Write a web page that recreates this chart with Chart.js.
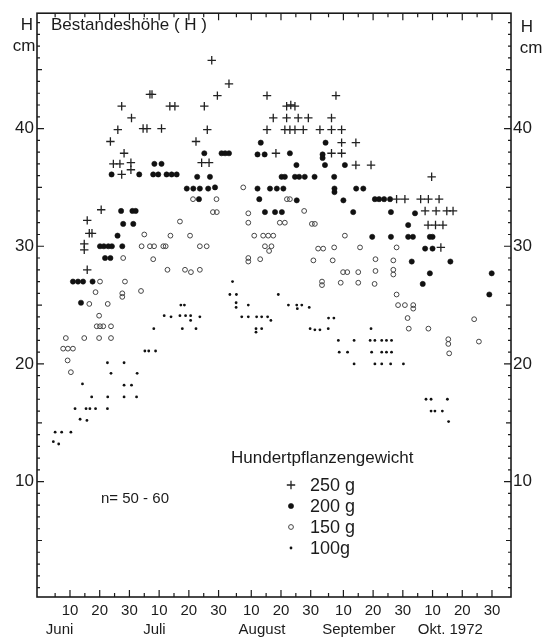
<!DOCTYPE html>
<html>
<head>
<meta charset="utf-8">
<script src="https://cdn.jsdelivr.net/npm/chart.js@4.4.0/dist/chart.umd.min.js"></script>
<style>
html, body { margin: 0; padding: 0; background: #fff; }
canvas { display: block; }
</style>
</head>
<body>
<canvas id="c" width="547" height="638"></canvas>
<script>
// x = days after 31 May 1972, y = Bestandeshöhe H in cm
var h250 = [
    [15.8, 32.2], [16.5, 31.1], [17.4, 31.1], [14.8, 30.2], [14.8, 29.7], [15.8, 28.0], [20.5, 33.1],
    [23.6, 38.9], [24.6, 37.0], [26.8, 37.0], [27.4, 36.1], [30.5, 37.1], [30.5, 36.5], [28.2, 37.9],
    [26.1, 39.9], [27.4, 41.9], [30.7, 40.9], [34.6, 40.0], [35.9, 40.0], [36.9, 42.9], [37.6, 42.9],
    [40.8, 40.0], [43.6, 41.9], [45.3, 41.9],
    [52.4, 38.9], [54.3, 37.1], [56.8, 37.1], [55.2, 41.9], [56.2, 39.9], [57.7, 45.8], [59.6, 42.8], [63.5, 43.8],
    [76.3, 42.8], [76.3, 39.9], [78.4, 40.9], [79.3, 37.9],
    [82.9, 41.9], [84.3, 42.0], [85.7, 41.9], [82.9, 40.9], [86.8, 40.9], [90.2, 40.9],
    [82.3, 39.9], [84.0, 39.9], [85.7, 39.9], [88.5, 39.9],
    [94.1, 39.9], [98.0, 39.9], [101.4, 39.9], [98.0, 40.9], [99.5, 42.8], [101.4, 38.8], [106.2, 38.8],
    [98.0, 37.9], [101.4, 37.9], [106.2, 36.9], [111.3, 36.9],
    [119.9, 34.0], [122.7, 34.0], [128.0, 34.0], [130.6, 34.0], [134.2, 34.0], [131.7, 35.9],
    [129.5, 33.0], [133.2, 33.0], [136.8, 33.0], [138.9, 33.0],
    [130.5, 31.8], [133.0, 31.8], [135.5, 31.8], [134.8, 29.9]
];
var h200 = [
    [11.0, 27.0], [12.7, 27.0], [14.4, 27.0], [17.6, 27.0], [13.7, 25.2],
    [20.1, 30.0], [21.4, 30.0], [22.9, 30.0], [24.1, 30.0], [27.6, 30.0], [21.8, 29.0], [23.6, 29.0],
    [26.0, 30.9], [27.9, 31.9], [31.3, 31.9], [27.2, 33.0], [31.0, 33.0], [32.1, 33.0],
    [24.0, 36.1], [33.3, 36.1], [38.0, 36.1], [39.7, 36.1], [42.5, 36.1], [44.2, 36.1], [45.9, 36.1],
    [38.4, 37.0], [40.8, 37.0],
    [49.3, 34.9], [51.5, 34.9], [53.7, 34.9], [56.5, 34.9], [58.8, 35.0], [52.8, 35.9], [57.1, 35.9],
    [55.2, 37.9], [61.0, 37.9], [62.2, 37.9], [63.5, 37.9], [53.4, 34.0],
    [74.2, 38.8], [73.1, 37.8], [75.5, 37.8], [84.0, 37.9],
    [81.2, 35.9], [82.3, 35.9], [85.7, 35.9], [87.1, 35.9], [89.0, 35.9], [92.3, 35.9],
    [73.1, 34.9], [77.3, 34.9], [79.6, 34.9], [81.8, 34.9], [73.7, 34.0],
    [75.6, 32.9], [79.0, 32.9], [81.3, 32.9], [86.2, 36.9], [86.3, 33.9],
    [96.0, 38.8], [95.0, 37.8], [95.0, 37.5], [95.8, 36.9], [102.5, 36.9], [98.9, 35.9],
    [99.0, 34.9], [99.0, 34.6], [106.3, 34.9], [108.7, 34.9], [102.0, 33.9],
    [112.6, 34.0], [114.0, 34.0], [115.7, 34.0], [117.7, 34.0], [105.3, 32.9], [118.0, 32.9],
    [123.8, 31.8], [111.7, 30.8], [118.0, 30.8], [123.8, 30.8], [125.4, 30.8], [131.1, 30.8], [132.0, 30.8],
    [126.1, 32.8], [129.5, 29.8], [132.0, 29.8], [125.0, 28.7], [138.0, 28.7], [131.1, 27.7], [128.7, 26.8],
    [151.9, 27.7], [151.1, 25.9]
];
var h150 = [
    [8.6, 22.2], [14.8, 22.2], [19.8, 22.2], [23.8, 22.2], [7.7, 21.3], [9.3, 21.3], [11.0, 21.3], [9.2, 20.3], [10.3, 19.3],
    [19.0, 23.2], [20.1, 23.2], [21.2, 23.2], [23.8, 23.2], [19.8, 24.1], [16.5, 25.1], [22.7, 25.1],
    [18.6, 26.1], [27.6, 26.0], [27.6, 25.7], [33.9, 26.2], [20.1, 27.0], [28.5, 27.0], [27.9, 29.0], [38.0, 28.9], [42.8, 28.0],
    [35.0, 31.0], [34.1, 30.0], [36.9, 30.0], [38.3, 30.0], [41.4, 30.0], [42.2, 30.0],
    [43.8, 30.9], [50.4, 30.9], [47.0, 32.1], [48.7, 28.0], [50.7, 27.8], [53.7, 28.0], [53.7, 30.0], [56.0, 30.0],
    [58.1, 32.9], [59.4, 32.9], [59.3, 34.0], [51.4, 34.0], [68.3, 35.0],
    [70.0, 32.8], [70.0, 32.0], [72.0, 30.9], [75.0, 30.9], [76.7, 30.9], [78.4, 30.9], [75.6, 30.0], [77.8, 30.0], [77.0, 29.6],
    [70.0, 29.0], [70.0, 28.7], [74.0, 28.9], [83.0, 34.0], [84.0, 34.0], [88.8, 33.0], [80.6, 32.0], [82.3, 32.0],
    [91.4, 31.9], [92.4, 31.9], [102.5, 30.9], [93.5, 29.8], [95.2, 29.8], [98.9, 29.9], [107.6, 29.9],
    [91.9, 28.8], [98.4, 28.8], [101.9, 27.8], [103.3, 27.8], [107.0, 27.8], [94.8, 27.0], [94.8, 26.7], [101.1, 26.9], [107.0, 26.9],
    [112.8, 28.9], [118.8, 28.8], [112.8, 27.9], [118.8, 28.0], [118.8, 27.6], [112.5, 26.8], [119.9, 29.9], [119.9, 25.9],
    [120.4, 25.0], [122.7, 25.0], [125.5, 25.0], [125.5, 24.7], [123.6, 23.9], [124.0, 23.0], [130.6, 23.0],
    [137.3, 22.1], [137.3, 21.7], [137.6, 20.9], [146.0, 23.8], [147.6, 21.9]
];
var h100 = [
    [5.0, 14.2], [7.2, 14.2], [10.3, 14.2], [4.4, 13.4], [6.2, 13.2],
    [11.7, 16.2], [15.4, 16.2], [16.7, 16.2], [18.6, 16.2], [22.6, 16.2], [13.4, 15.3], [15.7, 15.2],
    [17.3, 17.2], [22.7, 17.2], [28.2, 17.2], [32.4, 17.2], [14.2, 18.3], [28.2, 18.2], [30.7, 18.2],
    [22.6, 20.1], [28.2, 20.1], [23.8, 19.2], [32.6, 19.2], [35.2, 21.1], [36.5, 21.1], [38.8, 21.1], [38.2, 23.0],
    [41.7, 24.1], [44.0, 24.0], [47.0, 24.1], [48.9, 24.1], [50.6, 24.1], [50.6, 23.7], [53.7, 24.0],
    [47.3, 25.0], [48.5, 25.0], [47.8, 23.0], [52.4, 23.0], [64.7, 27.0], [63.8, 25.9], [66.0, 25.9],
    [65.9, 25.2], [65.9, 24.8], [70.0, 25.0],
    [67.8, 24.0], [70.0, 24.0], [72.8, 24.0], [74.5, 24.0], [76.5, 24.0], [77.6, 23.7], [72.6, 23.0], [72.6, 22.7], [74.5, 23.0],
    [80.1, 25.9], [83.5, 25.0], [86.3, 25.0], [86.5, 24.7], [88.0, 25.0], [90.5, 24.8],
    [90.8, 23.0], [92.4, 22.9], [94.1, 22.9], [96.9, 23.0], [97.0, 23.9], [98.8, 23.9],
    [100.3, 22.0], [105.6, 22.0], [111.0, 22.0], [112.6, 22.0], [114.9, 22.0], [116.5, 22.0], [118.2, 22.0],
    [100.6, 21.0], [103.4, 21.0], [111.5, 21.0], [114.9, 21.0], [116.5, 21.0], [118.2, 21.0],
    [105.6, 20.0], [112.6, 20.0], [114.9, 20.0], [117.9, 20.0], [122.2, 20.0], [111.3, 23.0],
    [129.8, 17.0], [131.5, 17.0], [137.0, 17.0], [131.5, 16.0], [132.8, 16.0], [135.3, 16.0], [137.4, 15.1]
];

var seriesNames = ['250 g', '200 g', '150 g', '100g'];
var dayTicks = [10, 20, 30, 40, 50, 60, 71, 81, 91, 102, 112, 122, 132, 142, 152];
var dayLabels = ['10', '20', '30', '10', '20', '30', '10', '20', '30', '10', '20', '30', '10', '20', '30'];
var fiveDayTicks = [5, 10, 15, 20, 25, 30, 35, 40, 45, 50, 55, 60, 66, 71, 76, 81, 86, 91,
    97, 102, 107, 112, 117, 122, 127, 132, 137, 142, 147, 152];
var monthPos = [6.5, 38.4, 74.6, 107.2, 138];
var monthLabels = ['Juni', 'Juli', 'August', 'September', 'Okt. 1972'];
var cmTicks = [10, 20, 30, 40];

var INK = '#1b1b1b';
var FONT = "'Liberation Sans', Arial, sans-serif";

function pts(arr) {
    return arr.map(function (p) { return { x: p[0], y: p[1] }; });
}

var deco = {
    id: 'deco',
    afterDraw: function (chart) {
        var ctx = chart.ctx;
        var a = chart.chartArea;
        var xs = chart.scales.x;
        var ys = chart.scales.y;
        ctx.save();
        ctx.strokeStyle = INK;
        ctx.lineWidth = 1.6;
        ctx.strokeRect(a.left, a.top, a.right - a.left, a.bottom - a.top);

        ctx.lineWidth = 1.2;
        ctx.beginPath();
        fiveDayTicks.forEach(function (d) {
            var px = xs.getPixelForValue(d);
            var len = dayTicks.indexOf(d) >= 0 ? 7 : 4;
            ctx.moveTo(px, a.bottom); ctx.lineTo(px, a.bottom - len);
            ctx.moveTo(px, a.top); ctx.lineTo(px, a.top + len);
        });
        for (var v = 1; v < 50; v++) {
            var py = ys.getPixelForValue(v);
            var len = v % 10 === 0 ? 7 : (v % 5 === 0 ? 5 : 3);
            ctx.moveTo(a.left, py); ctx.lineTo(a.left + len, py);
            ctx.moveTo(a.right, py); ctx.lineTo(a.right - len, py);
        }
        ctx.stroke();

        ctx.fillStyle = INK;
        ctx.textBaseline = 'middle';
        ctx.textAlign = 'left';
        ctx.font = '17px ' + FONT;
        ctx.fillText('Bestandeshöhe ( H )', 51, 25);
        ctx.textAlign = 'center';
        ctx.fillText('H', 27, 25);
        ctx.fillText('cm', 24, 46);
        ctx.fillText('H', 527, 27);
        ctx.fillText('cm', 531, 48);

        ctx.textAlign = 'left';
        ctx.fillText('Hundertpflanzengewicht', 231, 458);
        ctx.font = '15px ' + FONT;
        ctx.fillText('n= 50 - 60', 101, 499);

        ctx.font = '18px ' + FONT;
        chart.data.datasets.forEach(function (ds, i) {
            var cy = 486 + i * 21;
            ctx.fillStyle = ds.backgroundColor;
            ctx.strokeStyle = ds.borderColor;
            ctx.lineWidth = ds.borderWidth;
            Chart.helpers.drawPoint(ctx, {
                pointStyle: ds.pointStyle,
                radius: ds.pointRadius,
                borderWidth: ds.borderWidth,
                rotation: 0
            }, 291, cy - 1);
            ctx.fillStyle = INK;
            ctx.fillText(seriesNames[i], 310, cy);
        });
        ctx.restore();
    }
};

var XMIN = -1.1, XMAX = 158.4, YMIN = 0.2, YMAX = 49.8;

function yAxis(pos) {
    return {
        type: 'linear', position: pos, min: YMIN, max: YMAX,
        afterBuildTicks: function (s) { s.ticks = cmTicks.map(function (v) { return { value: v }; }); },
        afterFit: function (s) { s.width = pos === 'left' ? 37 : 36; },
        grid: { display: false, drawTicks: false },
        border: { display: false },
        ticks: { color: INK, font: { family: FONT, size: 17 }, padding: pos === 'left' ? 3 : 2 }
    };
}

new Chart(document.getElementById('c'), {
    type: 'scatter',
    data: {
        datasets: [
            { label: seriesNames[0], data: pts(h250), pointStyle: 'cross', pointRadius: 4.2,
              borderWidth: 1.3, borderColor: '#222', backgroundColor: '#222' },
            { label: seriesNames[1], data: pts(h200), pointStyle: 'circle', pointRadius: 2.6,
              borderWidth: 0.6, borderColor: '#111', backgroundColor: '#111' },
            { label: seriesNames[2], data: pts(h150), pointStyle: 'circle', pointRadius: 2.4,
              borderWidth: 1, borderColor: '#444', backgroundColor: 'rgba(255,255,255,0)' },
            { label: seriesNames[3], data: pts(h100), pointStyle: 'circle', pointRadius: 1.4,
              borderWidth: 0, borderColor: '#111', backgroundColor: '#111' }
        ]
    },
    options: {
        responsive: false,
        animation: false,
        devicePixelRatio: 1,
        layout: { padding: { top: 5, left: 0, right: 0, bottom: 0 } },
        plugins: { legend: { display: false }, tooltip: { enabled: false } },
        scales: {
            x: {
                type: 'linear', position: 'bottom', min: XMIN, max: XMAX, weight: 1,
                afterBuildTicks: function (s) { s.ticks = dayTicks.map(function (v) { return { value: v }; }); },
                afterFit: function (s) { s.height = 22; },
                grid: { display: false, drawTicks: false },
                border: { display: false },
                ticks: {
                    color: INK, font: { family: FONT, size: 15 }, padding: 5,
                    autoSkip: false, maxRotation: 0,
                    callback: function (v, i) { return dayLabels[i]; }
                }
            },
            xm: {
                type: 'linear', position: 'bottom', min: XMIN, max: XMAX, weight: 2,
                afterBuildTicks: function (s) { s.ticks = monthPos.map(function (v) { return { value: v }; }); },
                afterFit: function (s) { s.height = 19; },
                grid: { display: false, drawTicks: false },
                border: { display: false },
                ticks: {
                    color: INK, font: { family: FONT, size: 15 }, padding: 2,
                    autoSkip: false, maxRotation: 0,
                    callback: function (v, i) { return monthLabels[i]; }
                }
            },
            y: yAxis('left'),
            y2: yAxis('right')
        }
    },
    plugins: [deco]
});
</script>
</body>
</html>
